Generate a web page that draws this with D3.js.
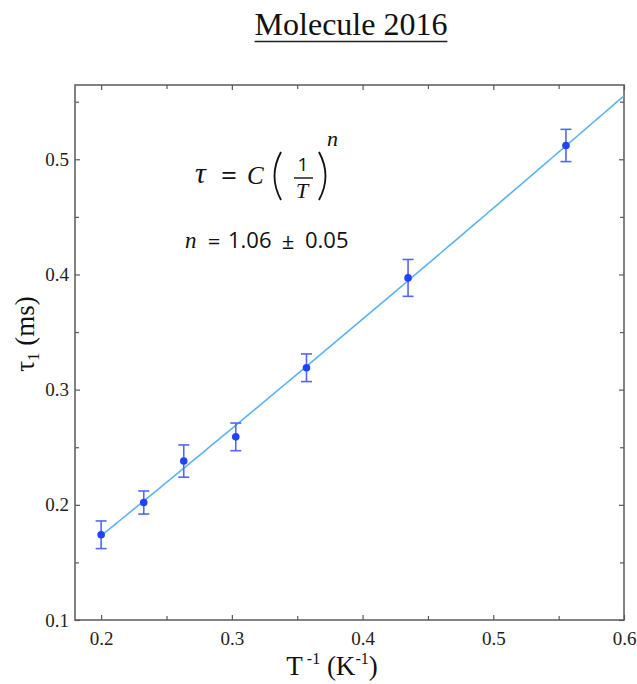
<!DOCTYPE html>
<html>
<head>
<meta charset="utf-8">
<script src="https://cdn.jsdelivr.net/npm/d3@7"></script>
<style>
  html, body { margin: 0; padding: 0; background: #fff; }
  svg { display: block; }
</style>
</head>
<body>
<svg id="chart" width="637" height="684"></svg>
<script>
// Inverse temperature 1/T (K^-1) and relaxation time tau_1 (ms) with uncertainties
const invT   = [0.2000, 0.2326, 0.2632, 0.3030, 0.3571, 0.4348, 0.5556];
const tau    = [0.174, 0.202, 0.238, 0.259, 0.319, 0.397, 0.512];
const tauErr = [0.012, 0.010, 0.014, 0.012, 0.012, 0.016, 0.014];

// Power-law fit tau = C (1/T)^n
const fitC = 0.954;
const fitN = 1.06;
const fitRange = [0.2, 0.6];

const xTicks = [0.2, 0.3, 0.4, 0.5, 0.6];
const xMinor = [0.25, 0.35, 0.45, 0.55];
const yTicks = [0.1, 0.2, 0.3, 0.4, 0.5];
const yMinor = [0.15, 0.25, 0.35, 0.45, 0.55];

const svg = d3.select("#chart");
const L = 75, R = 624, T = 85, B = 620;

const x = d3.scaleLinear().domain([0.18, 0.6]).range([L, R]);
const y = d3.scaleLinear().domain([0.1, 0.5645]).range([B, T]);

const serif = "'Liberation Serif', 'Times New Roman', serif";
const frameColor = "#5a5a5a";

// Title with underline
const title = svg.append("text")
  .attr("x", 351).attr("y", 35)
  .attr("text-anchor", "middle")
  .attr("font-family", serif).attr("font-size", 32)
  .attr("fill", "#111")
  .text("Molecule 2016");
const tb = title.node().getBBox();
svg.append("line")
  .attr("x1", tb.x).attr("x2", tb.x + tb.width)
  .attr("y1", 41.5).attr("y2", 41.5)
  .attr("stroke", "#222").attr("stroke-width", 1.5);

// Axes: ticks point inward on all four sides
const tickFmt = d3.format(".1f");
const gB = svg.append("g").attr("transform", `translate(0,${B})`)
  .call(d3.axisBottom(x).tickValues(xTicks).tickFormat(tickFmt).tickSizeInner(-5).tickSizeOuter(0).tickPadding(12));
const gBm = svg.append("g").attr("transform", `translate(0,${B})`)
  .call(d3.axisBottom(x).tickValues(xMinor).tickFormat("").tickSizeInner(-4).tickSizeOuter(0));
const gT = svg.append("g").attr("transform", `translate(0,${T})`)
  .call(d3.axisTop(x).tickValues(xTicks).tickFormat("").tickSizeInner(-5).tickSizeOuter(0));
const gTm = svg.append("g").attr("transform", `translate(0,${T})`)
  .call(d3.axisTop(x).tickValues(xMinor).tickFormat("").tickSizeInner(-4).tickSizeOuter(0));
const gL = svg.append("g").attr("transform", `translate(${L},0)`)
  .call(d3.axisLeft(y).tickValues(yTicks).tickFormat(tickFmt).tickSizeInner(-5).tickSizeOuter(0).tickPadding(6));
const gLm = svg.append("g").attr("transform", `translate(${L},0)`)
  .call(d3.axisLeft(y).tickValues(yMinor).tickFormat("").tickSizeInner(-4).tickSizeOuter(0));
const gR = svg.append("g").attr("transform", `translate(${R},0)`)
  .call(d3.axisRight(y).tickValues(yTicks).tickFormat("").tickSizeInner(-5).tickSizeOuter(0));
const gRm = svg.append("g").attr("transform", `translate(${R},0)`)
  .call(d3.axisRight(y).tickValues(yMinor).tickFormat("").tickSizeInner(-4).tickSizeOuter(0));

[gB, gBm, gT, gTm, gL, gLm, gR, gRm].forEach(g => {
  g.attr("font-family", null).attr("font-size", null);
  g.select(".domain").remove();
  g.selectAll(".tick line").attr("stroke", frameColor).attr("stroke-width", 1.2);
  g.selectAll(".tick text")
    .style("font-family", "Liberation Serif")
    .style("font-size", "19px")
    .attr("fill", "#222");
});

// Plot frame
svg.append("rect")
  .attr("x", L).attr("y", T).attr("width", R - L).attr("height", B - T)
  .attr("fill", "none").attr("stroke", frameColor).attr("stroke-width", 1.5);

// Fit curve
const fitXs = d3.range(fitRange[0], fitRange[1] + 1e-9, 0.005);
svg.append("path")
  .datum(fitXs)
  .attr("fill", "none")
  .attr("stroke", "#5cb3f2")
  .attr("stroke-width", 1.6)
  .attr("d", d3.line().x(d => x(d)).y(d => y(fitC * Math.pow(d, fitN))));

// Error bars
const pts = invT.map((v, i) => ({ x: v, y: tau[i], e: tauErr[i] }));
const eb = svg.append("g").attr("stroke", "#5566f0").attr("stroke-width", 1.6).attr("fill", "none");
const cap = 5.5;
pts.forEach(p => {
  const cx = x(p.x), y1 = y(p.y + p.e), y2 = y(p.y - p.e);
  eb.append("line").attr("x1", cx).attr("x2", cx).attr("y1", y1).attr("y2", y2);
  eb.append("line").attr("x1", cx - cap).attr("x2", cx + cap).attr("y1", y1).attr("y2", y1);
  eb.append("line").attr("x1", cx - cap).attr("x2", cx + cap).attr("y1", y2).attr("y2", y2);
});

// Data points
svg.append("g").selectAll("circle").data(pts).join("circle")
  .attr("cx", d => x(d.x)).attr("cy", d => y(d.y))
  .attr("r", 3.8).attr("fill", "#1f44ff");

// Axis titles
svg.append("text")
  .attr("transform", "translate(34,334) rotate(-90)")
  .attr("text-anchor", "middle")
  .attr("font-family", serif).attr("font-size", 27).attr("fill", "#111")
  .html('τ<tspan font-size="17" dy="5">1</tspan><tspan dy="-5"> (ms)</tspan>');

svg.append("text")
  .attr("x", 332).attr("y", 675)
  .attr("text-anchor", "middle")
  .attr("font-family", serif).attr("font-size", 27).attr("fill", "#111")
  .html('T<tspan font-size="16" dy="-11"> -1</tspan><tspan dy="11"> (K</tspan><tspan font-size="16" dy="-11">-1</tspan><tspan dy="11">)</tspan>');

// Equation annotation: tau = C (1/T)^n
const sans = "'Open Sans', 'Noto Sans', sans-serif";
const eq = svg.append("g").attr("fill", "#111");
eq.append("text").attr("x", 195).attr("y", 183)
  .attr("font-family", serif).attr("font-style", "italic").attr("font-size", 30).text("τ");
eq.append("text").attr("x", 229).attr("y", 185).attr("text-anchor", "middle")
  .attr("font-family", sans).attr("font-size", 28).text("=");
eq.append("text").attr("x", 247).attr("y", 184)
  .attr("font-family", serif).attr("font-style", "italic").attr("font-size", 25).text("C");
// parentheses around the fraction
eq.append("path").attr("d", "M281,152 Q268,176 281,200")
  .attr("fill", "none").attr("stroke", "#111").attr("stroke-width", 1.8);
eq.append("path").attr("d", "M319,152 Q332,176 319,200")
  .attr("fill", "none").attr("stroke", "#111").attr("stroke-width", 1.8);
eq.append("text").attr("x", 303).attr("y", 171).attr("text-anchor", "middle")
  .attr("font-family", sans).attr("font-size", 19).text("1");
eq.append("line").attr("x1", 294).attr("x2", 313).attr("y1", 178).attr("y2", 178)
  .attr("stroke", "#111").attr("stroke-width", 1.4);
eq.append("text").attr("x", 302).attr("y", 198).attr("text-anchor", "middle")
  .attr("font-family", serif).attr("font-style", "italic").attr("font-size", 22).text("T");
eq.append("text").attr("x", 327).attr("y", 146)
  .attr("font-family", serif).attr("font-style", "italic").attr("font-size", 22).text("n");

// Fitted exponent
const nl = svg.append("g").attr("fill", "#111").attr("font-family", sans).attr("font-size", 22);
nl.append("text").attr("x", 185).attr("y", 248)
  .attr("font-family", serif).attr("font-style", "italic").attr("font-size", 23).text("n");
nl.append("text").attr("x", 214).attr("y", 249).attr("text-anchor", "middle").text("=");
nl.append("text").attr("x", 228).attr("y", 248).text("1.06");
nl.append("text").attr("x", 288).attr("y", 249).attr("text-anchor", "middle").text("±");
nl.append("text").attr("x", 305).attr("y", 248).text("0.05");
</script>
</body>
</html>
